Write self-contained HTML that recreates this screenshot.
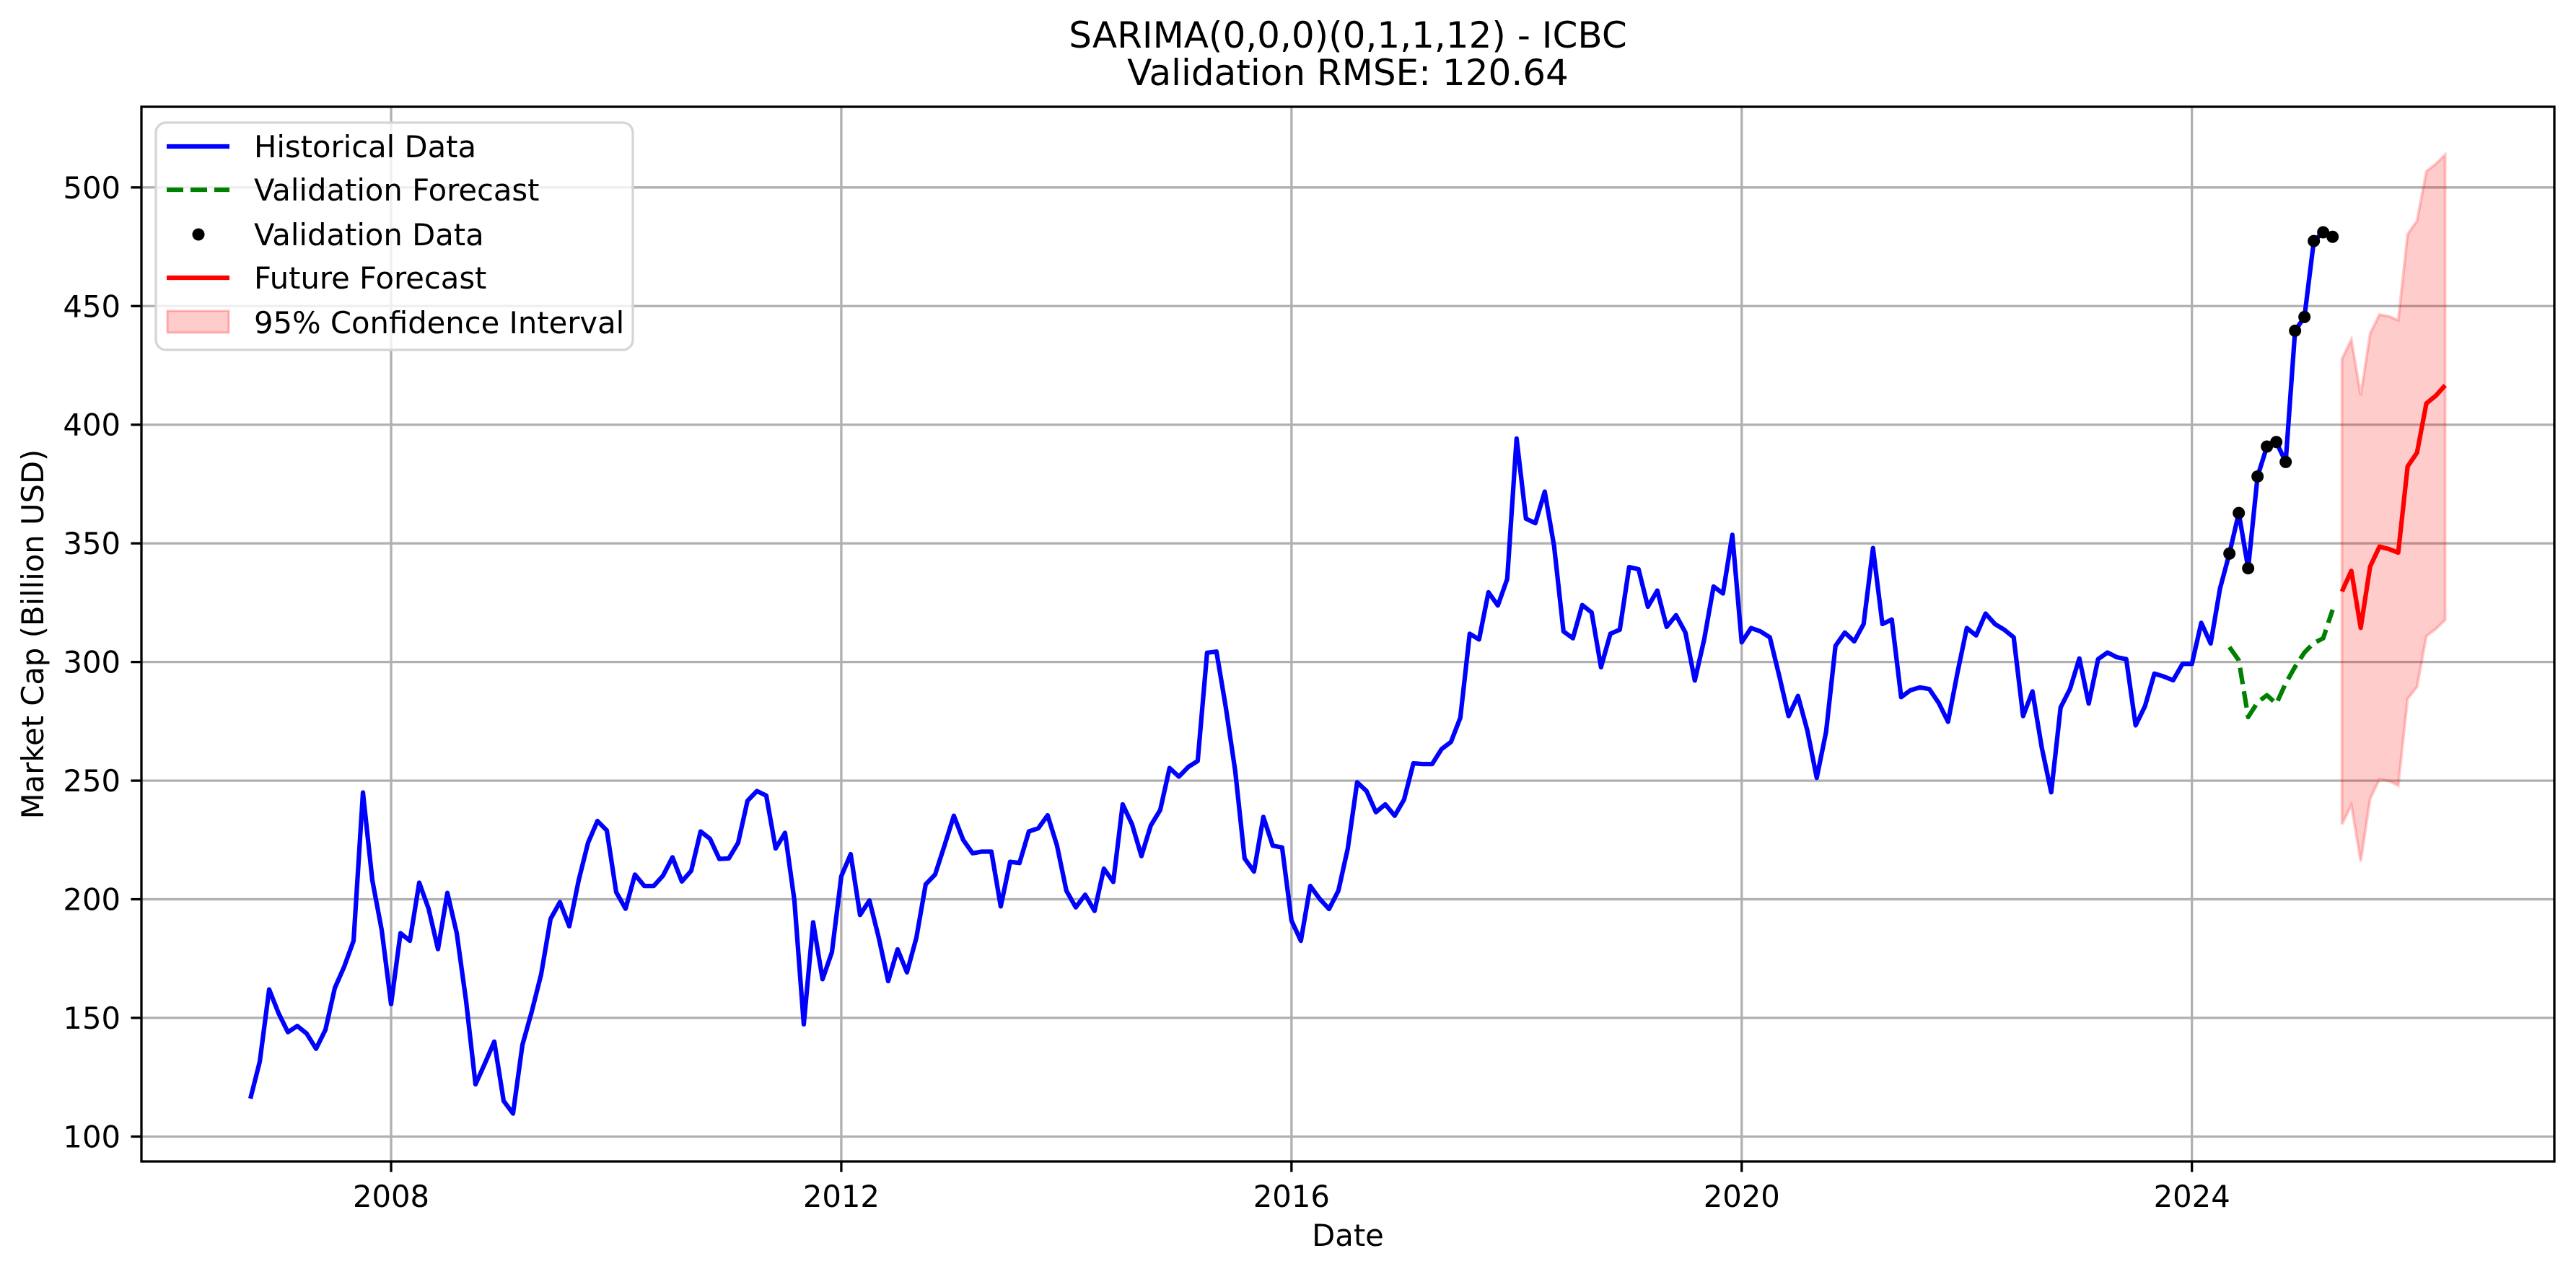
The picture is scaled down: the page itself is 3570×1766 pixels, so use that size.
<!DOCTYPE html>
<html><head><meta charset="utf-8"><style>
html,body{margin:0;padding:0;background:#fff;}
svg{display:block;font-family:"DejaVu Sans","Liberation Sans",sans-serif;}
</style></head><body>
<svg id="chart" width="3570" height="1766" viewBox="0 0 3570 1766" xmlns="http://www.w3.org/2000/svg">
<rect width="3570" height="1766" fill="#fff"/>
<g id="grid"></g><g id="marks"></g><g id="axes"></g><g id="legend"></g>
</svg>
<script>
// ---- data ----
const startYear = 2006, startMonth = 10; // first historical month (Oct 2006)
const historical = [116,131.6,162,152,144,146.6,143.4,137,145,162.6,171.6,182.5,245,208,187,155.8,185.7,182.5,207,196,179,202.7,185.7,157,122,130.8,140,115,109.7,138.6,152.7,168.4,191.7,198.8,188.6,208,223.8,233,229,203,196,210.4,205.6,205.6,210,217.7,207.5,212,228.6,225.5,217,217.2,223.8,241.5,245.6,243.7,221.4,228,199.5,147.3,190.3,166.3,177.7,209.7,219,193.4,
199.5,183.7,165.5,178.9,169.2,183.7,206.3,210.4,222.6,235.2,225,219.4,220.1,220.1,197,215.8,215.3,228.6,229.9,235.4,222.6,203.6,196.6,201.9,195.1,212.9,207.3,240,231.6,218.2,231.1,237.6,255.3,251.7,255.8,258.3,303.9,304.4,280.8,254.1,217.2,211.7,234.7,222.6,221.8,191,182.5,205.6,200.2,195.9,203.6,221.4,249.3,245.6,236.7,240,235.2,242,257.3,257,257,263.3,266.3,276.5,311.9,
309.5,329.4,323.8,335,394.2,360.4,358.5,371.8,348.8,312.9,310,324,320.9,297.8,311.9,313.6,340,339.1,323.3,330.1,314.8,319.7,312.4,292.2,309.5,331.8,328.9,353.6,308.3,314.3,312.9,310.4,294.2,277.2,285.7,271.1,251.2,270.6,306.8,312.4,308.7,316,348,316,317.9,285.2,288.1,289.3,288.6,282.8,274.8,295.4,314.3,311.2,320.4,316,313.6,310.4,277.2,287.6,263.8,245.1,280.8,288.6,301.5,282.5,
301.2,304,302,301.2,273.3,281.4,295.1,293.9,292.3,299.2,299.2,316.5,307.8,331,345.7,362.8,339.5,378.2,390.8,392.7,384.3,439.6,445.4,477.4,481.1,479.2];
const valStartIndex = 211; // months after start
const validationData = [345.7,362.8,339.5,378.2,390.8,392.7,384.3,439.6,445.4,477.4,481.1,479.2];
const validationForecast = [306.3,300.7,276.8,283,286,282.4,291,298,304,308,310,322];
const futureStartIndex = 223;
const futureForecast = [329.7,338.4,314.4,340.2,348.6,347.6,346.1,382.4,388.2,409,412.2,416.6];
const ciUpper = [427.7,436,412.4,438.4,446.4,445.7,444,480.3,485.9,506.8,509.9,513.8];
const ciLower = [231.6,239.7,215.9,242.3,250.6,249.9,247.9,284.5,289.5,310.9,313.9,317.7];
const yTicks = [100,150,200,250,300,350,400,450,500];
const xTicks = [2008,2012,2016,2020,2024];

// ---- scales ----
const L=196,R=3540,T=148,B=1610;
const yMin=89.5,yMax=534;
const x0px=542, pxPerYear=155.98;
function X(year){return x0px+(year-2008)*pxPerYear;}
function Xi(i){return X(startYear+(startMonth-1+i)/12);}
function Y(v){return B-(v-yMin)/(yMax-yMin)*(B-T);}
const NS="http://www.w3.org/2000/svg";
function mk(tag,attrs,parent){const e=document.createElementNS(NS,tag);for(const k in attrs)e.setAttribute(k,attrs[k]);parent.appendChild(e);return e;}
const grid=document.getElementById('grid'),marks=document.getElementById('marks'),axes=document.getElementById('axes'),legend=document.getElementById('legend');

// grid
yTicks.forEach(v=>{const l=mk('line',{x1:L,x2:R,y1:Y(v),y2:Y(v),stroke:'#b0b0b0','stroke-width':3.3},grid);

});
xTicks.forEach(v=>{const l=mk('line',{x1:X(v),x2:X(v),y1:T,y2:B,stroke:'#b0b0b0','stroke-width':3.3},grid);

});

// CI band
let pts=[];
ciUpper.forEach((v,k)=>pts.push(Xi(futureStartIndex+k)+','+Y(v)));
for(let k=ciLower.length-1;k>=0;k--)pts.push(Xi(futureStartIndex+k)+','+Y(ciLower[k]));
const band=mk('polygon',{points:pts.join(' '),fill:'rgba(255,0,0,0.2)',stroke:'rgba(255,0,0,0.2)','stroke-width':4},marks);



function line(arr,start,color,extra){return mk('polyline',Object.assign({points:arr.map((v,k)=>Xi(start+k)+','+Y(v)).join(' '),fill:'none',stroke:color,'stroke-width':6.25,'stroke-linejoin':'round'},extra||{}),marks);}
const h=line(historical,0,'#0000ff');


const vf=line(validationForecast,valStartIndex,'#008000',{'stroke-dasharray':'23 10'});


validationData.forEach((v,k)=>{const c=mk('circle',{cx:Xi(valStartIndex+k),cy:Y(v),r:8.5,fill:'#000'},marks);

});
const ff=line(futureForecast,futureStartIndex,'#ff0000');



// axes
const frame=mk('rect',{x:L,y:T,width:R-L,height:B-T,fill:'none',stroke:'#000','stroke-width':3.3},axes);


yTicks.forEach(v=>{mk('line',{x1:L-14.6,x2:L,y1:Y(v),y2:Y(v),stroke:'#000','stroke-width':3.3},axes);
const t=mk('text',{x:L-29,y:Y(v)+15,'text-anchor':'end','font-size':41.7,fill:'#000'},axes);t.textContent=v;

});
xTicks.forEach(v=>{mk('line',{x1:X(v),x2:X(v),y1:B,y2:B+14.6,stroke:'#000','stroke-width':3.3},axes);
const t=mk('text',{x:X(v),y:B+63,'text-anchor':'middle','font-size':41.7,fill:'#000'},axes);t.textContent=v;

});
</script>
<svg x="0" y="0" width="0" height="0"></svg>
<script>
const svg=document.getElementById('chart');
function txt(s,attrs,name){const t=document.createElementNS("http://www.w3.org/2000/svg",'text');for(const k in attrs)t.setAttribute(k,attrs[k]);t.textContent=s;svg.appendChild(t);return t;}
let t1=txt('SARIMA(0,0,0)(0,1,1,12) - ICBC',{x:1868,y:66,'text-anchor':'middle','font-size':50});


let t2=txt('Validation RMSE: 120.64',{x:1868,y:118,'text-anchor':'middle','font-size':50});


let xl=txt('Date',{x:1868,y:1727,'text-anchor':'middle','font-size':41.7});


let yl=txt('Market Cap (Billion USD)',{x:0,y:0,'text-anchor':'middle','font-size':41.7,transform:'translate(60,879) rotate(-90)'});



// legend
const lg=document.getElementById('legend');
const NS2="http://www.w3.org/2000/svg";
function m2(tag,a){const e=document.createElementNS(NS2,tag);for(const k in a)e.setAttribute(k,a[k]);lg.appendChild(e);return e;}
const box=m2('rect',{x:216,y:170,width:661,height:315,rx:14,fill:'rgba(255,255,255,0.8)',stroke:'#d5d5d5','stroke-width':3.3});


const rows=[['Historical Data',203],['Validation Forecast',263],['Validation Data',325],['Future Forecast',385],['95% Confidence Interval',447]];
let a=m2('line',{x1:231,x2:318,y1:203,y2:203,stroke:'#0000ff','stroke-width':6.25});


a=m2('line',{x1:231,x2:318,y1:263,y2:263,stroke:'#008000','stroke-width':6.25,'stroke-dasharray':'23 10'});


a=m2('circle',{cx:275,cy:325,r:8.5,fill:'#000'});


a=m2('line',{x1:231,x2:318,y1:385,y2:385,stroke:'#ff0000','stroke-width':6.25});


a=m2('rect',{x:232,y:431,width:85,height:30,fill:'rgba(255,0,0,0.2)',stroke:'rgba(255,0,0,0.25)','stroke-width':3});


rows.forEach(r=>{const t=m2('text',{x:352,y:r[1]+15,'font-size':41.7,fill:'#000'});t.textContent=r[0];

});
</script>
</body></html>
